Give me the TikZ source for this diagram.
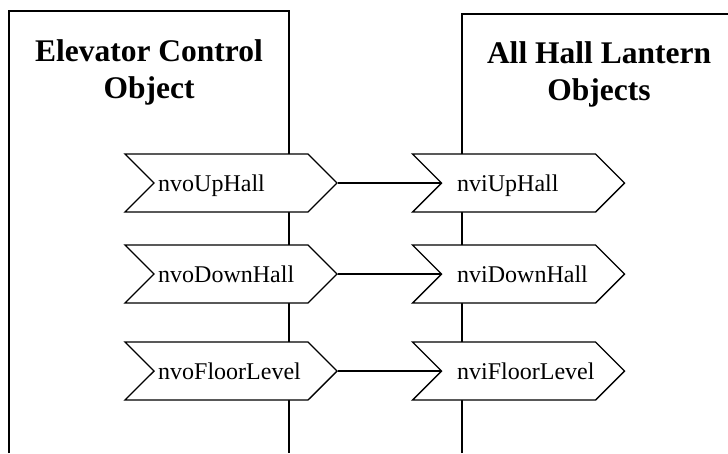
\documentclass[tikz,border=0pt]{standalone}
\usepackage{fontspec}
\setmainfont{Liberation Serif}
\usetikzlibrary{shapes.symbols}
\begin{document}
\begin{tikzpicture}[x=1pt,y=-1pt,
  edge/.style={line width=1.4pt},
  chev/.style={draw, line width=1.4pt, fill=white, shape=signal, signal to=east, signal from=west,
    signal pointer angle=90, minimum width=212pt, minimum height=58pt, inner sep=0pt},
  lbl/.style={anchor=base west, inner sep=0pt, font=\fontsize{24}{28}\selectfont},
  ttl/.style={anchor=base, inner sep=0pt, font=\fontsize{31.5}{37}\selectfont\bfseries}]
\useasboundingbox (0,0) rectangle (728,453);
% object boxes (open at bottom)
\draw[edge] (9,453) |- (289,11) -- (289,453);
\draw[edge] (462,453) |- (740,14);
\node[ttl] (ecA) at (149,61) {Elevator Control};
\node[ttl] (ecB) at (149,98) {Object};
\node[ttl] (hlA) at (599,63) {All Hall Lantern};
\node[ttl] (hlB) at (599,100) {Objects};
% network variables
\node[chev] (o1) at (231,183) {};
\node[chev] (o2) at (231,274) {};
\node[chev] (o3) at (231,371) {};
\node[chev] (i1) at (518.5,183) {};
\node[chev] (i2) at (518.5,274) {};
\node[chev] (i3) at (518.5,371) {};
\node[lbl] (to1) at (158,191) {nvoUpHall};
\node[lbl] (to2) at (158,282) {nvoDownHall};
\node[lbl] (to3) at (158,379) {nvoFloorLevel};
\node[lbl] (ti1) at (457,191) {nviUpHall};
\node[lbl] (ti2) at (457,282) {nviDownHall};
\node[lbl] (ti3) at (457,379) {nviFloorLevel};
% bindings
\draw[edge] (o1.east) -- (i1.west);
\draw[edge] (o2.east) -- (i2.west);
\draw[edge] (o3.east) -- (i3.west);
\end{tikzpicture}
\end{document}
